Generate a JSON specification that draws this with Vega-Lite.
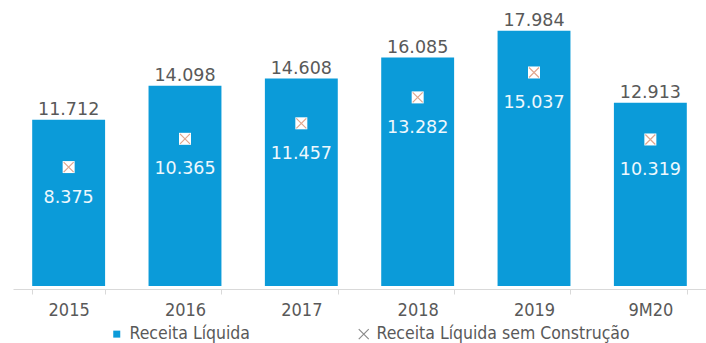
{
  "$schema": "https://vega.github.io/schema/vega-lite/v6.json",
  "width": 693,
  "height": 284,
  "autosize": {"type": "none"},
  "padding": {"left": 13, "top": 2, "right": 0, "bottom": 57},
  "config": {
    "view": {"stroke": null},
    "font": "DejaVu Sans",
    "locale": {"number": {"decimal": ",", "thousands": ".", "grouping": [3], "currency": ["R$", ""]}}
  },
  "data": {
    "values": [
      {"periodo": "2015", "receita": 11712, "sem": 8375},
      {"periodo": "2016", "receita": 14098, "sem": 10365},
      {"periodo": "2017", "receita": 14608, "sem": 11457},
      {"periodo": "2018", "receita": 16085, "sem": 13282},
      {"periodo": "2019", "receita": 17984, "sem": 15037},
      {"periodo": "9M20", "receita": 12913, "sem": 10319}
    ]
  },
  "encoding": {
    "x": {
      "field": "periodo",
      "type": "nominal",
      "sort": null,
      "scale": {"paddingInner": 0.3734, "paddingOuter": 0.165},
      "axis": {
        "title": null,
        "labelAngle": 0,
        "domainColor": "#d9d9d9",
        "tickColor": "#d9d9d9",
        "tickBand": "extent",
        "tickSize": 5,
        "offset": 3,
        "labelFont": "DejaVu Sans Condensed, Liberation Sans",
        "labelFontSize": 18,
        "labelColor": "#595959",
        "labelPadding": 7
      }
    }
  },
  "layer": [
    {
      "mark": {"type": "bar"},
      "encoding": {
        "y": {"field": "receita", "type": "quantitative", "scale": {"domain": [0, 20000]}, "axis": null},
        "color": {
          "datum": "Receita Líquida",
          "type": "nominal",
          "scale": {"domain": ["Receita Líquida", "Receita Líquida sem Construção"], "range": ["#0b9bd9", "#8c8c8c"]},
          "legend": {
            "title": null,
            "orient": "none",
            "legendX": 95,
            "legendY": 323,
            "direction": "horizontal",
            "labelFont": "DejaVu Sans Condensed, Liberation Sans",
            "labelFontSize": 17.5,
            "labelColor": "#595959",
            "labelLimit": 400,
            "columnPadding": 104,
            "labelOffset": 4,
            "symbolSize": 100,
            "encode": {
              "symbols": {
                "update": {
                  "shape": {"signal": "datum.value === 'Receita Líquida' ? 'square' : 'M-1,-1L1,1M1,-1L-1,1'"},
                  "fill": {"signal": "datum.value === 'Receita Líquida' ? '#0b9bd9' : 'transparent'"},
                  "stroke": {"signal": "datum.value === 'Receita Líquida' ? '#0b9bd9' : '#8c8c8c'"},
                  "size": {"signal": "datum.value === 'Receita Líquida' ? 49 : 100"},
                  "strokeWidth": {"signal": "datum.value === 'Receita Líquida' ? 0 : 1.2"},
                  "opacity": {"value": 1}
                }
              }
            }
          }
        }
      }
    },
    {
      "mark": {"type": "text", "dy": -5, "baseline": "alphabetic", "fontSize": 17.5, "color": "#595959"},
      "encoding": {
        "y": {"field": "receita", "type": "quantitative"},
        "text": {"field": "receita", "type": "quantitative", "format": ","}
      }
    },
    {
      "mark": {"type": "point", "shape": "square", "size": 144, "filled": true, "color": "#ffffff", "opacity": 1},
      "encoding": {
        "y": {"field": "sem", "type": "quantitative"}
      }
    },
    {
      "mark": {"type": "point", "shape": "M-1,-1L1,1M1,-1L-1,1", "size": 100, "filled": false, "stroke": "#e0a78f", "color": "#e0a78f", "strokeWidth": 1.2, "opacity": 1},
      "encoding": {
        "y": {"field": "sem", "type": "quantitative"}
      }
    },
    {
      "mark": {"type": "text", "dy": 35.5, "baseline": "alphabetic", "fontSize": 17.5, "color": "#eef8fd"},
      "encoding": {
        "y": {"field": "sem", "type": "quantitative"},
        "text": {"field": "sem", "type": "quantitative", "format": ","}
      }
    }
  ]
}
